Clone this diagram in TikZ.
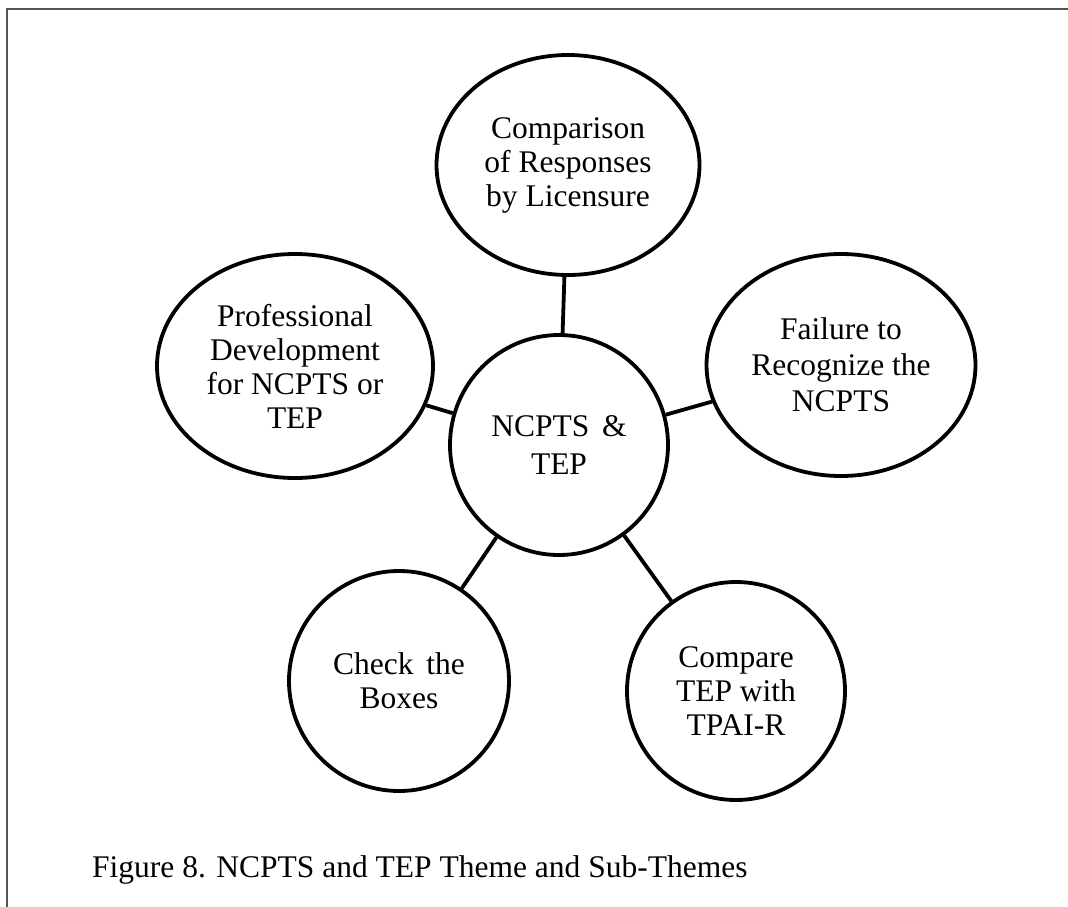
\documentclass[tikz,border=0pt]{standalone}
\usepackage{fontspec}
\setmainfont{Liberation Serif}
\usetikzlibrary{shapes.geometric}
\tikzset{
  theme/.style={ellipse, draw=black, line width=3.8pt, inner sep=0pt, align=center,
    font=\fontsize{31.5}{34}\selectfont},
  link/.style={draw=black, line width=3.8pt},
  frameline/.style={draw=black!67, line width=1.7pt}
}
\begin{document}
\begin{tikzpicture}[x=1pt, y=-1pt]
\useasboundingbox (0,0) rectangle (1068,907);
\draw[frameline] (7,907) -- (7,9) -- (1068,9);

\node[theme, minimum width=263pt, minimum height=220pt] (top) at (568,165)
  {Comparison\\of Responses\\by Licensure};
\node[theme, minimum width=276pt, minimum height=224pt] (left) at (295,366)
  {Professional\\Development\\for NCPTS or\\TEP};
\node[theme, minimum width=269pt, minimum height=222pt,
  font=\fontsize{31.5}{36}\selectfont] (right) at (841,365)
  {Failure to\\Recognize the\\NCPTS};
\node[theme, minimum width=218pt, minimum height=220pt,
  font=\fontsize{31.5}{38}\selectfont] (ctr) at (559,445)
  {NCPTS\hspace{0.4em}\&\\TEP};
\node[theme, minimum width=220pt, minimum height=220pt] (bl) at (399,681)
  {Check\hspace{0.4em}the\\Boxes};
\node[theme, minimum width=218pt, minimum height=218pt] (br) at (736,691)
  {Compare\\TEP with\\TPAI-R};

\draw[link] (ctr) -- (top);
\draw[link] (ctr) -- (left);
\draw[link] (ctr) -- (right);
\draw[link] (ctr) -- (bl);
\draw[link] (ctr) -- (br);

\node[anchor=base west, inner sep=0pt, font=\fontsize{31.5}{34}\selectfont] (cap) at (92,877)
  {Figure 8. NCPTS and TEP Theme and Sub-Themes};
\end{tikzpicture}
\end{document}
